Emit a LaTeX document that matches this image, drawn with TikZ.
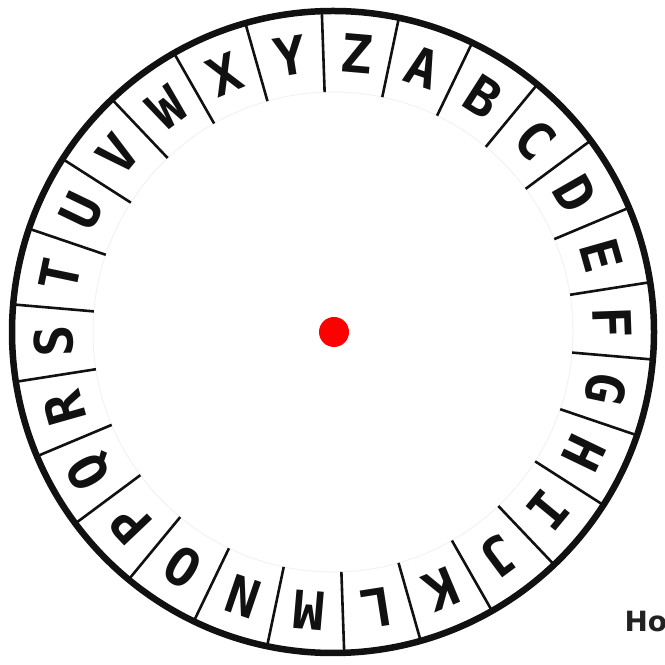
\documentclass[tikz,border=0pt]{standalone}
\usepackage{fontspec}
\usepackage{xcolor}
\usetikzlibrary{calc}
\newfontfamily\wheelfont{DejaVu Sans Mono}
\newfontfamily\notefont{DejaVu Sans}
\definecolor{ink}{HTML}{111111}
\definecolor{dotred}{HTML}{FF0000}
\definecolor{notegray}{HTML}{222222}

\begin{document}
\begin{tikzpicture}[
  x=1bp, y=1bp,
  rim/.style={draw=ink, line width=6.5bp},
  divider/.style={draw=ink, line width=2.6bp},
  letter/.style={font=\wheelfont\bfseries\fontsize{53}{53}\selectfont, text=ink, inner sep=0pt},
  note/.style={font=\notefont\bfseries\fontsize{28}{28}\selectfont, text=notegray, anchor=base west}
]
\useasboundingbox (0,0) rectangle (665,665);
\coordinate (c) at (333,333);
% faint inner edge of the letter ring
\draw[black!5, line width=1bp] (c) circle (240);
% dividers between the letters
\foreach \k in {0,...,25}
  \draw[divider] ($(c)+({92-\k*360/26}:240)$) -- ($(c)+({92-\k*360/26}:321)$);
% letters, clockwise from Z
\foreach \ch [count=\i from 0] in {Z,A,B,C,D,E,F,G,H,I,J,K,L,M,N,O,P,Q,R,S,T,U,V,W,X,Y}
  \node[letter, rotate={85.08-\i*360/26-90}] (l-\ch) at ($(c)+({85.08-\i*360/26}:279)$) {\ch};
\draw[rim] (c) circle (321);
% centre
\fill[dotred] (334,333) circle (15);
\node[note] (how) at (621,33) {How};
\end{tikzpicture}
\end{document}
